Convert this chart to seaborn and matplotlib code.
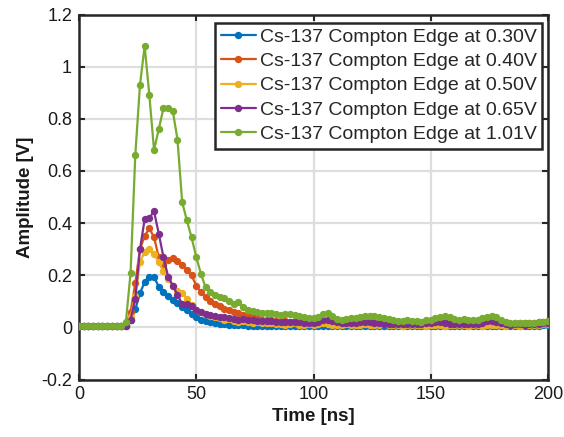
import numpy as np
import pandas as pd
import matplotlib
matplotlib.use("Agg")
import matplotlib.pyplot as plt
import seaborn as sns

# ---------------- data ----------------
time_ns = list(range(0, 201, 2))

labels = [
    "Cs-137 Compton Edge at 0.30V",
    "Cs-137 Compton Edge at 0.40V",
    "Cs-137 Compton Edge at 0.50V",
    "Cs-137 Compton Edge at 0.65V",
    "Cs-137 Compton Edge at 1.01V",
]

baseline = [0.005, 0.004, 0.006, 0.005, 0.004, 0.005, 0.006, 0.004, 0.005, 0.006]

amp_030 = baseline + [
    0.005, 0.03, 0.07, 0.13, 0.175, 0.195, 0.195, 0.155, 0.135, 0.12, 0.105, 0.095, 0.08, 0.066, 0.05, 0.04, 0.03, 0.024,
    0.02, 0.016, 0.013, 0.011, 0.01, 0.009, 0.008, 0.008, 0.007, 0.006, 0.006, 0.005, 0.006, 0.005, 0.004, 0.005, 0.006, 0.005, 0.004, 0.005, 0.004, 0.005,
    0.005, 0.006, 0.005, 0.004, 0.005, 0.006, 0.005, 0.004, 0.004, 0.005, 0.006, 0.005, 0.004, 0.005, 0.006, 0.005, 0.004, 0.005, 0.006, 0.005,
    0.004, 0.005, 0.006, 0.005, 0.004, 0.005, 0.006, 0.005, 0.004, 0.005, 0.006, 0.005, 0.004, 0.005, 0.006, 0.005, 0.004, 0.005, 0.006, 0.005,
    0.004, 0.005, 0.006, 0.005, 0.004, 0.005, 0.006, 0.005, 0.006, 0.008, 0.01,
]

amp_040 = baseline + [
    0.01, 0.06, 0.17, 0.30, 0.35, 0.38, 0.345, 0.27, 0.24, 0.26, 0.265, 0.255, 0.24, 0.22, 0.20, 0.16, 0.135, 0.115,
    0.10, 0.09, 0.082, 0.072, 0.066, 0.058, 0.054, 0.047, 0.043, 0.038, 0.034, 0.03, 0.028, 0.027, 0.025, 0.026, 0.024, 0.022, 0.023, 0.021, 0.02, 0.022,
    0.02, 0.022, 0.025, 0.02, 0.018, 0.017, 0.019, 0.02, 0.018, 0.016, 0.017, 0.019, 0.02, 0.018, 0.016, 0.015, 0.017, 0.018, 0.016, 0.015,
    0.014, 0.016, 0.017, 0.016, 0.015, 0.014, 0.016, 0.018, 0.019, 0.017, 0.016, 0.015, 0.016, 0.017, 0.015, 0.014, 0.016, 0.018, 0.02, 0.018,
    0.016, 0.015, 0.014, 0.015, 0.016, 0.015, 0.017, 0.018, 0.02, 0.022, 0.024,
]

amp_050 = baseline + [
    0.01, 0.04, 0.12, 0.25, 0.29, 0.30, 0.28, 0.25, 0.215, 0.185, 0.16, 0.14, 0.132, 0.11, 0.085, 0.068, 0.06, 0.05,
    0.045, 0.04, 0.036, 0.03, 0.033, 0.026, 0.022, 0.025, 0.02, 0.018, 0.022, 0.016, 0.015, 0.018, 0.012, 0.014, 0.01, 0.012, 0.015, 0.01, 0.009, 0.012,
    0.01, 0.012, 0.015, 0.011, 0.009, 0.008, 0.01, 0.012, 0.009, 0.008, 0.01, 0.011, 0.009, 0.008, 0.01, 0.012, 0.01, 0.008, 0.009, 0.007,
    0.008, 0.01, 0.009, 0.008, 0.007, 0.009, 0.01, 0.008, 0.007, 0.008, 0.009, 0.01, 0.008, 0.007, 0.009, 0.008, 0.007, 0.008, 0.01, 0.009,
    0.008, 0.007, 0.008, 0.009, 0.007, 0.008, 0.009, 0.008, 0.01, 0.012, 0.014,
]

amp_065 = baseline + [
    0.005, 0.03, 0.11, 0.30, 0.415, 0.42, 0.445, 0.36, 0.27, 0.195, 0.16, 0.125, 0.09, 0.088, 0.082, 0.068, 0.058, 0.05,
    0.048, 0.045, 0.04, 0.038, 0.036, 0.033, 0.03, 0.032, 0.028, 0.027, 0.025, 0.026, 0.024, 0.023, 0.022, 0.021, 0.022, 0.02, 0.019, 0.02, 0.018, 0.017,
    0.018, 0.022, 0.028, 0.03, 0.025, 0.02, 0.018, 0.016, 0.017, 0.018, 0.02, 0.022, 0.02, 0.018, 0.016, 0.014, 0.013, 0.012, 0.013, 0.014,
    0.012, 0.011, 0.012, 0.013, 0.015, 0.018, 0.022, 0.02, 0.017, 0.014, 0.012, 0.013, 0.014, 0.012, 0.011, 0.013, 0.018, 0.024, 0.026, 0.022,
    0.016, 0.012, 0.01, 0.011, 0.012, 0.01, 0.011, 0.012, 0.013, 0.015, 0.016,
]

amp_101 = baseline + [
    0.02, 0.21, 0.66, 0.93, 1.08, 0.89, 0.68, 0.76, 0.84, 0.84, 0.83, 0.72, 0.48, 0.41, 0.345, 0.27, 0.205, 0.153,
    0.134, 0.125, 0.118, 0.112, 0.10, 0.088, 0.098, 0.078, 0.068, 0.062, 0.058, 0.056, 0.055, 0.056, 0.052, 0.049, 0.05, 0.052, 0.048, 0.043, 0.038, 0.036,
    0.035, 0.04, 0.05, 0.056, 0.045, 0.032, 0.03, 0.033, 0.035, 0.036, 0.04, 0.043, 0.045, 0.042, 0.04, 0.035, 0.032, 0.028, 0.025, 0.023,
    0.027, 0.025, 0.024, 0.022, 0.028, 0.03, 0.034, 0.04, 0.042, 0.039, 0.032, 0.03, 0.033, 0.03, 0.028, 0.03, 0.035, 0.04, 0.042, 0.038,
    0.03, 0.022, 0.018, 0.017, 0.018, 0.017, 0.016, 0.018, 0.02, 0.021, 0.024,
]

series = [amp_030, amp_040, amp_050, amp_065, amp_101]
colors = ["#0072BD", "#D95319", "#EDB120", "#7E2F8E", "#77AC30"]

xticks = [0, 50, 100, 150, 200]
yticks = [-0.2, 0, 0.2, 0.4, 0.6, 0.8, 1.0, 1.2]
ytick_labels = ["-0.2", "0", "0.2", "0.4", "0.6", "0.8", "1", "1.2"]

# ---------------- plot ----------------
sns.set_style("white")
plt.rcParams["font.family"] = ["Liberation Sans", "DejaVu Sans"]

fig = plt.figure(figsize=(5.64, 4.37), dpi=100)
ax = fig.add_axes([79 / 564, 1 - 379.5 / 437, (548 - 79) / 564, (379.5 - 14.5) / 437])

for vals, lab, col in zip(series, labels, colors):
    df = pd.DataFrame({"t": time_ns, "a": vals})
    sns.lineplot(data=df, x="t", y="a", ax=ax, color=col, label=lab,
                 linewidth=1.6, marker="o", markersize=5.3,
                 markeredgewidth=0, zorder=3)

ax.set_xlim(0, 200)
ax.set_ylim(-0.2, 1.2)
ax.set_xticks(xticks)
ax.set_xticklabels([str(v) for v in xticks])
ax.set_yticks(yticks)
ax.set_yticklabels(ytick_labels)

ax.grid(True, color="#dedede", linewidth=1.6, zorder=0)
ax.set_axisbelow(True)
for sp in ax.spines.values():
    sp.set_visible(True)
    sp.set_color("#262626")
    sp.set_linewidth(1.8)
ax.tick_params(direction="in", length=4, width=1.5, color="#262626",
               labelsize=13, labelcolor="#1a1a1a",
               top=True, right=True, bottom=True, left=True, pad=5)

ax.set_xlabel("Time [ns]", fontsize=13.5, fontweight="bold", color="#1a1a1a", labelpad=3)
ax.set_ylabel("Amplitude [V]", fontsize=13.5, fontweight="bold", color="#1a1a1a", labelpad=5)

leg = ax.legend(loc="upper right", bbox_to_anchor=(0.988, 0.978), fontsize=14,
                frameon=True, fancybox=False, framealpha=1, edgecolor="#262626",
                handlelength=1.8, handletextpad=0.2, labelspacing=0.34,
                borderpad=0.3, borderaxespad=0)
leg.get_frame().set_linewidth(1.8)

fig.savefig("out.png", dpi=100)
